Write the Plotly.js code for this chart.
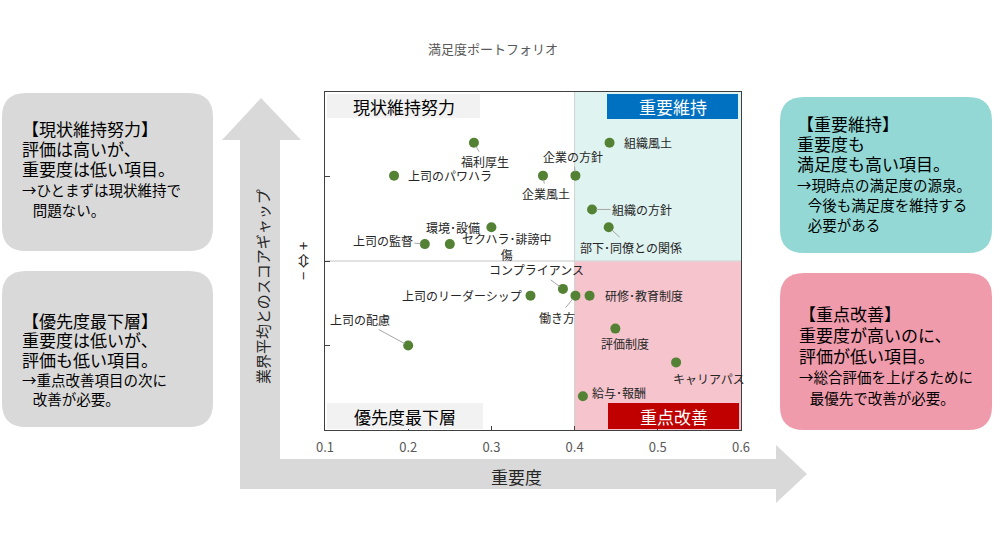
<!DOCTYPE html>
<html>
<head>
<meta charset="utf-8">
<script src="https://cdn.plot.ly/plotly-3.0.1.min.js"></script>
<style>html,body{margin:0;padding:0;background:#fff;}#chart{width:1000px;height:559px;}</style>
</head>
<body>
<div id="chart"></div>
<script>
// ---- data ----
const names = ["組織風土","福利厚生","上司のパワハラ","企業風土","企業の方針","組織の方針","部下･同僚との関係","環境･設備","上司の監督","セクハラ･誹謗中<br>傷","コンプライアンス","働き方","研修･教育制度","上司のリーダーシップ","上司の配慮","評価制度","キャリアパス","給与･報酬"];
const importance = [0.442,0.279,0.183,0.362,0.401,0.421,0.441,0.300,0.220,0.250,0.386,0.401,0.418,0.347,0.200,0.449,0.522,0.410];
const gap = [1.40,1.40,1.01,1.01,1.01,0.61,0.40,0.40,0.20,0.20,-0.33,-0.41,-0.41,-0.41,-1.00,-0.80,-1.20,-1.60];
const xTicks = [0.1,0.2,0.3,0.4,0.5,0.6];
const quadrantNames = ["現状維持努力","重要維持","優先度最下層","重点改善"];
const chartTitle = "満足度ポートフォリオ";
const xTitle = "重要度";
const yTitle = "業界平均とのスコアギャップ";
const yDir = "− ⇔ +";
const boxTLHead = ["【現状維持努力】","評価は高いが、","重要度は低い項目。"];
const boxTLNote = ["→ひとまずは現状維持で","問題ない。"];
const boxBLHead = ["【優先度最下層】","重要度は低いが、","評価も低い項目。"];
const boxBLNote = ["→重点改善項目の次に","改善が必要。"];
const boxTRHead = ["【重要維持】","重要度も","満足度も高い項目。"];
const boxTRNote = ["→現時点の満足度の源泉。","今後も満足度を維持する","必要がある"];
const boxBRHead = ["【重点改善】","重要度が高いのに、","評価が低い項目。"];
const boxBRNote = ["→総合評価を上げるために","最優先で改善が必要。"];

// ---- layout helpers (pixel -> paper) ----
const W = 1000, H = 559;
const L = 325, R = 741, T = 92, B = 430;
const X = px => (px - L) / (R - L);
const Y = py => (B - py) / (B - T);
const FONT = '"Noto Sans CJK JP", "Noto Sans", sans-serif';

function rr(x0, y0, x1, y1, r) {
  return `M ${X(x0 + r)} ${Y(y0)} L ${X(x1 - r)} ${Y(y0)} Q ${X(x1)} ${Y(y0)} ${X(x1)} ${Y(y0 + r)} ` +
         `L ${X(x1)} ${Y(y1 - r)} Q ${X(x1)} ${Y(y1)} ${X(x1 - r)} ${Y(y1)} ` +
         `L ${X(x0 + r)} ${Y(y1)} Q ${X(x0)} ${Y(y1)} ${X(x0)} ${Y(y1 - r)} ` +
         `L ${X(x0)} ${Y(y0 + r)} Q ${X(x0)} ${Y(y0)} ${X(x0 + r)} ${Y(y0)} Z`;
}
function poly(pts) {
  return 'M ' + pts.map(p => `${X(p[0])} ${Y(p[1])}`).join(' L ') + ' Z';
}

const shapes = [];
// big L arrow
shapes.push({type:'path', xref:'paper', yref:'paper', layer:'below', line:{width:0}, fillcolor:'#d9d9d9',
  path: poly([[261,98],[301,140],[280,140],[280,459],[776,459],[776,445],[807,474],[776,503],[776,489],[240,489],[240,140],[222,140]])});
// side boxes
shapes.push({type:'path', xref:'paper', yref:'paper', layer:'below', line:{width:0}, fillcolor:'#d9d9d9', path: rr(2,93,213,251,24)});
shapes.push({type:'path', xref:'paper', yref:'paper', layer:'below', line:{width:0}, fillcolor:'#d9d9d9', path: rr(2,271,213,427,24)});
shapes.push({type:'path', xref:'paper', yref:'paper', layer:'below', line:{width:0}, fillcolor:'#93d8d4', path: rr(780,97,992,253,24)});
shapes.push({type:'path', xref:'paper', yref:'paper', layer:'below', line:{width:0}, fillcolor:'#ef9bab', path: rr(780,273,992,430,24)});
// quadrant fills
shapes.push({type:'rect', xref:'x', yref:'y', layer:'below', x0:0.4, x1:0.6, y0:0, y1:2, line:{width:0}, fillcolor:'#dff3f1'});
shapes.push({type:'rect', xref:'x', yref:'y', layer:'below', x0:0.4, x1:0.6, y0:-2, y1:0, line:{width:0}, fillcolor:'#f5c4cd'});
// dividers
shapes.push({type:'line', xref:'x', yref:'y', layer:'below', x0:0.1, x1:0.6, y0:0, y1:0, line:{color:'#d9d9d9', width:1.5}});
shapes.push({type:'line', xref:'x', yref:'y', layer:'below', x0:0.4, x1:0.4, y0:-2, y1:2, line:{color:'#d0d0d0', width:1}});
// quadrant label boxes
const qBoxes = [
  {x0:327,x1:480,y0:94,y1:118,fill:'#f2f2f2',color:'#000'},
  {x0:607,x1:738,y0:94,y1:119,fill:'#0070c0',color:'#fff'},
  {x0:327,x1:483,y0:403,y1:429,fill:'#f2f2f2',color:'#000'},
  {x0:608,x1:739,y0:403,y1:429,fill:'#c00000',color:'#fff'}
];
const annotations = [];
qBoxes.forEach((b, i) => {
  shapes.push({type:'rect', xref:'paper', yref:'paper', layer:'above', x0:X(b.x0), x1:X(b.x1), y0:Y(b.y1), y1:Y(b.y0), line:{width:0}, fillcolor:b.fill});
  annotations.push({xref:'paper', yref:'paper', x:X((b.x0+b.x1)/2), y:Y((b.y0+b.y1)/2), text:quadrantNames[i], showarrow:false,
    font:{family:FONT, size:17, color:b.color}, xanchor:'center', yanchor:'middle'});
});

// point labels
const labelCfg = [
  {anchor:'left', xs:12, ys:0},          // 組織風土
  {ax:11, ay:19},                        // 福利厚生
  {anchor:'left', xs:12, ys:0},          // 上司のパワハラ
  {ax:3, ay:18},                         // 企業風土
  {ax:-2, ay:-19},                       // 企業の方針
  {ax:50, ay:0},                         // 組織の方針
  {ax:22, ay:20},                        // 部下・同僚との関係
  {anchor:'right', xs:-9, ys:0},         // 環境・設備
  {ax:-42, ay:-4},                       // 上司の監督
  {anchor:'center', xs:57, ys:-2},       // セクハラ・誹謗中傷
  {ax:-26, ay:-19},                      // コンプライアンス
  {ax:-18, ay:22},                       // 働き方
  {anchor:'left', xs:13, ys:0},          // 研修・教育制度
  {anchor:'right', xs:-7, ys:0},         // 上司のリーダーシップ
  {ax:-48, ay:-26},                      // 上司の配慮
  {anchor:'center', xs:10, ys:-15},      // 評価制度
  {anchor:'center', xs:33, ys:-16},      // キャリアパス
  {anchor:'left', xs:7, ys:4}            // 給与・報酬
];
names.forEach((n, i) => {
  const c = labelCfg[i];
  const a = {x:importance[i], y:gap[i], xref:'x', yref:'y', text:n, font:{family:FONT, size:12, color:'#262626'}};
  if (c.ax !== undefined) {
    Object.assign(a, {showarrow:true, ax:c.ax, ay:c.ay, axref:'pixel', ayref:'pixel', arrowhead:0, arrowwidth:1, arrowcolor:'#a6a6a6', standoff:4});
  } else {
    Object.assign(a, {showarrow:false, xanchor:c.anchor, yanchor:'middle', xshift:c.xs, yshift:c.ys});
  }
  annotations.push(a);
});

// side box texts: one block per box, large head lines + small note lines (later ones indented)
const IND = '\u2002\u2005';
function boxText(head, note, x, yFirst, yLast) {
  const lines = head.map(t => `<span style="font-size:17px">${t}</span>`)
    .concat(note.map((t, i) => `<span style="font-size:14.5px">${i ? IND + t : t}</span>`));
  annotations.push({xref:'paper', yref:'paper', x:X(x), y:Y((yFirst + yLast) / 2), text:lines.join('<br>'), showarrow:false,
    xanchor:'left', yanchor:'middle', align:'left', borderpad:0, font:{family:FONT, size:(yLast - yFirst) / (lines.length - 1) / 1.3, color:'#000'}});
}
boxText(boxTLHead, boxTLNote, 21, 128, 208);
boxText(boxBLHead, boxBLNote, 21, 320, 397);
boxText(boxTRHead, boxTRNote, 796, 123, 223);
boxText(boxBRHead, boxBRNote, 798, 313, 396);

// titles
annotations.push({xref:'paper', yref:'paper', x:X(493), y:Y(48), text:chartTitle, showarrow:false, xanchor:'center', yanchor:'middle',
  font:{family:FONT, size:13, color:'#595959'}});
annotations.push({xref:'paper', yref:'paper', x:X(516), y:Y(476), text:xTitle, showarrow:false, xanchor:'center', yanchor:'middle',
  font:{family:FONT, size:17, color:'#262626'}});
annotations.push({xref:'paper', yref:'paper', x:X(262), y:Y(287), text:yTitle, showarrow:false, textangle:-90, xanchor:'center', yanchor:'middle',
  font:{family:FONT, size:15, color:'#262626'}});
annotations.push({xref:'paper', yref:'paper', x:X(302), y:Y(261), text:yDir, showarrow:false, textangle:-90, xanchor:'center', yanchor:'middle',
  font:{family:FONT, size:15, color:'#262626'}});

const trace = {
  type:'scatter', mode:'markers', x:importance, y:gap,
  marker:{color:'#548235', size:10}, hoverinfo:'skip', cliponaxis:false
};

const layout = {
  width:W, height:H, margin:{l:L, r:W-R, t:T, b:H-B, pad:0},
  paper_bgcolor:'#fff', plot_bgcolor:'#fff', showlegend:false,
  xaxis:{range:[0.1,0.6], tickvals:xTicks, ticktext:xTicks.map(v=>v.toFixed(1)), ticks:'inside', ticklen:4, tickcolor:'#404040',
    showgrid:false, zeroline:false, showline:true, mirror:true, linecolor:'#404040', linewidth:1,
    tickfont:{family:FONT, size:13, color:'#595959'}, ticklabelstandoff:5, fixedrange:true},
  yaxis:{range:[-2,2], tickvals:[-1,0,1], showticklabels:false, ticks:'inside', ticklen:5, tickcolor:'#404040',
    showgrid:false, zeroline:false, showline:true, mirror:true, linecolor:'#404040', linewidth:1, fixedrange:true},
  shapes:shapes, annotations:annotations,
  font:{family:FONT}
};
Plotly.newPlot('chart', [trace], layout, {staticPlot:true, displayModeBar:false});
</script>
</body>
</html>
